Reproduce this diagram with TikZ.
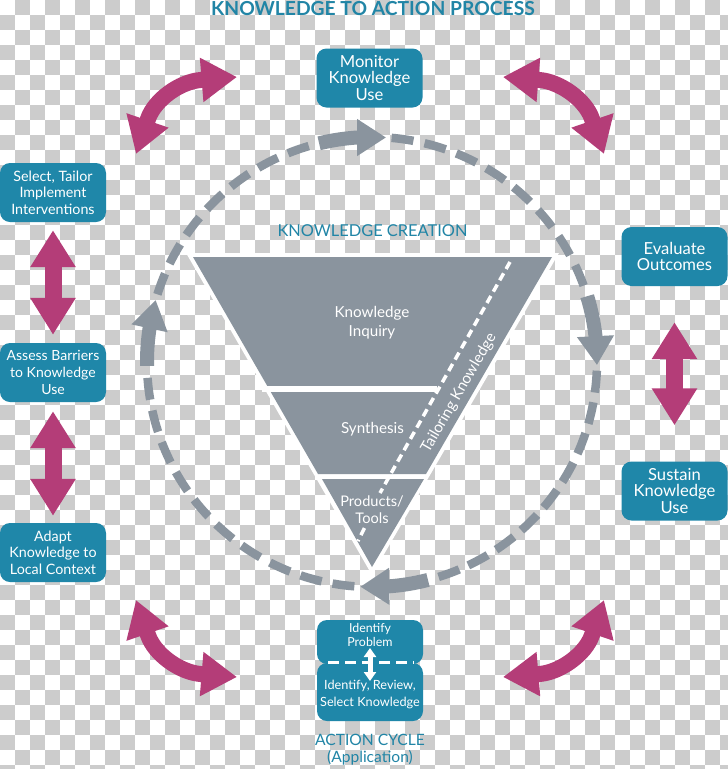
\documentclass[tikz,border=0pt]{standalone}
\usepackage{fontspec}
\setmainfont{Lato}
\usetikzlibrary{arrows.meta,bending}
\definecolor{tealbox}{HTML}{1F87A9}
\definecolor{titleblue}{HTML}{2185A6}
\definecolor{pinkarrow}{HTML}{B43D78}
\definecolor{slate}{HTML}{8A949E}
\definecolor{tile}{HTML}{CCCCCC}
\tikzset{
  stepbox/.style={draw=none,fill=tealbox,rounded corners=10pt,minimum width=106pt,minimum height=59pt,inner sep=0pt,text=white,align=center,font=\fontsize{14.3}{16.7}\selectfont},
  bigstep/.style={stepbox,font=\fontsize{16.6}{16.7}\selectfont},
  plainbox/.style={fill=tealbox,rounded corners=10pt,minimum width=106pt,inner sep=0pt},
  boxtext/.style={text=white,align=center,inner sep=0pt},
  tritext/.style={text=white,align=center,inner sep=0pt,font=\fontsize{15.2}{18.5}\selectfont},
  heading/.style={text=titleblue,align=center,inner sep=0pt},
  pinkstraight/.style={draw=pinkarrow,line width=17pt,{Triangle[length=37pt,width=43pt]}-{Triangle[length=37pt,width=43pt]}},
  pinkcurve/.style={draw=pinkarrow,line width=16pt,line join=round,{Triangle[length=35.5pt,width=42pt]}-{Triangle[length=35.5pt,width=42pt]}},
  ringdash/.style={draw=slate,line width=8.5pt,dash pattern=on 22pt off #1},
  ringarrow/.style={draw=slate,line width=14pt,-{Triangle[length=29pt,width=35pt]}},
  tailordash/.style={draw=white,line width=3.5pt,dash pattern=on 8pt off 5pt},
  whitearrow/.style={draw=white,line width=5pt,{Triangle[length=9pt,width=12pt]}-{Triangle[length=9pt,width=12pt]}},
  whitedash/.style={draw=white,line width=3pt,dash pattern=on 11pt off 6pt}
}
\begin{document}
\begin{tikzpicture}[x=1pt,y=-1pt]
\useasboundingbox (0,0) rectangle (728,769);
\clip (0,0) rectangle (728,769);
\fill[white] (0,0) rectangle (728,769);
% checkerboard
\foreach \j in {0,...,51}{
  \foreach \i in {0,...,48}{
    \pgfmathparse{int(mod(\i+\j,2))}
    \ifnum\pgfmathresult=1
      \fill[tile] (\i*15,\j*15) rectangle ++(15,15);
    \fi
  }
}
% ring
\coordinate (c) at (372,362);
\coordinate (topTail) at ([shift={(256.4:225)}]c);
\coordinate (topTip) at ([shift={(273.6:225)}]c);
\coordinate (rightTail) at ([shift={(343:225)}]c);
\coordinate (rightTip) at ([shift={(360.8:225)}]c);
\coordinate (bottomTail) at ([shift={(75.6:225)}]c);
\coordinate (bottomTip) at ([shift={(93:225)}]c);
\coordinate (leftTail) at ([shift={(179:225)}]c);
\coordinate (leftTip) at ([shift={(196:225)}]c);
\draw[ringdash=11.4pt] ([shift={(275:225)}]c) arc[start angle=275,end angle=340.5,radius=225];
\draw[ringdash=9.9pt] ([shift={(2.2:225)}]c) arc[start angle=2.2,end angle=73,radius=225];
\draw[ringdash=11.1pt] ([shift={(94.5:225)}]c) arc[start angle=94.5,end angle=176.5,radius=225];
\draw[ringdash=11.1pt] ([shift={(197.5:225)}]c) arc[start angle=197.5,end angle=254,radius=225];
\draw[ringarrow] (topTail) arc[start angle=256.4,end angle=273.6,radius=225];
\draw[ringarrow] (rightTail) arc[start angle=343,end angle=360.8,radius=225];
\draw[ringarrow] (bottomTail) arc[start angle=75.6,end angle=93,radius=225];
\draw[ringarrow] (leftTail) arc[start angle=179,end angle=196,radius=225];
% funnel
\fill[white,draw=white,line width=8pt,line join=miter] (193,257) -- (552,257) -- (372,567) -- cycle;
\fill[slate] (193,257) -- (552,257) -- (426,474) -- (318,474) -- cycle;
\fill[slate] (322,479) -- (424,479) -- (372,567) -- cycle;
\fill[white] (262,386) rectangle (437,392);
\coordinate (tailorTop) at (510,262);
\coordinate (tailorGapA) at (380,493);
\coordinate (tailorGapB) at (364.5,528);
\coordinate (tailorBottom) at (358,541);
\draw[tailordash] (tailorTop) -- (tailorGapA);
\draw[tailordash] (tailorGapB) -- (tailorBottom);
\node[tritext] (inquiry) at (372,322.5) {Knowledge\\Inquiry};
\node[tritext] (synth) at (372.5,429) {Synthesis};
\node[tritext,font=\fontsize{14.6}{17}\selectfont] (tools) at (372,510) {Products/\\Tools};
\node[text=white,inner sep=0pt,rotate=60,font=\fontsize{15.2}{17}\selectfont] (tailorText) at (459,393) {Tailoring Knowledge};
% headings
\node[heading,font=\bfseries\fontsize{19.3}{20}\selectfont] (title) at (373,9) {KNOWLEDGE TO ACTION PROCESS};
\node[heading,font=\fontsize{16.4}{18}\selectfont] (creation) at (372.5,230.5) {KNOWLEDGE CREATION};
\node[heading,font=\fontsize{15.6}{16.7}\selectfont] (cycle) at (370,749.5) {ACTION CYCLE\\(Application)};
% step boxes
\node[bigstep] (monitor) at (369.5,78) {Monitor\\Knowledge\\Use};
\node[stepbox] (select) at (53,192.5) {Select, Tailor\\Implement\\Interventions};
\node[stepbox,font=\fontsize{14}{16.7}\selectfont] (assess) at (53,372.5) {Assess Barriers\\to Knowledge\\Use};
\node[stepbox] (adapt) at (53,552.5) {Adapt\\Knowledge to\\Local Context};
\node[bigstep] (evaluate) at (674.5,256.5) {Evaluate\\Outcomes};
\node[bigstep] (sustain) at (674.5,491) {Sustain\\Knowledge\\Use};
\node[plainbox,minimum height=44pt] (problem) at (370,642) {};
\node[plainbox,minimum height=58pt] (review) at (370,692) {};
\node[boxtext,font=\fontsize{12.4}{14}\selectfont] (problemText) at (370,635) {Identify\\Problem};
\node[boxtext,font=\fontsize{12.7}{16.7}\selectfont] (reviewText) at (370,694.5) {Identify, Review,\\Select Knowledge};
\coordinate (dashL) at (328,662);
\coordinate (dashR) at (414,662);
\draw[whitedash] (dashL) -- (dashR);
\coordinate (whiteUp) at (370,648);
\coordinate (whiteDown) at (370,681);
\draw[whitearrow] (whiteUp) -- (whiteDown);
% straight pink arrows
\draw[pinkstraight,shorten <=8pt,shorten >=8pt] (select.south) -- (assess.north);
\draw[pinkstraight,shorten <=9pt,shorten >=7pt] (assess.south) -- (adapt.north);
\draw[pinkstraight,shorten <=36pt,shorten >=36pt] (evaluate.south) -- (sustain.north);
% curved pink arrows
\coordinate (tlA) at (136,154); \coordinate (tlB) at (237,77);
\coordinate (trA) at (604,154); \coordinate (trB) at (503,77);
\coordinate (blA) at (136,600); \coordinate (blB) at (237,677);
\coordinate (brA) at (604,600); \coordinate (brB) at (503,677);
\draw[pinkcurve] (tlA) -- (148,119) .. controls (154.6,99.6) and (180,81.7) .. (200.5,80) -- (tlB);
\draw[pinkcurve] (trA) -- (592,119) .. controls (585.4,99.6) and (560,81.7) .. (539.5,80) -- (trB);
\draw[pinkcurve] (blA) -- (148,635) .. controls (154.6,654.4) and (180,672.3) .. (200.5,674) -- (blB);
\draw[pinkcurve] (brA) -- (592,635) .. controls (585.4,654.4) and (560,672.3) .. (539.5,674) -- (brB);
\end{tikzpicture}
\end{document}
